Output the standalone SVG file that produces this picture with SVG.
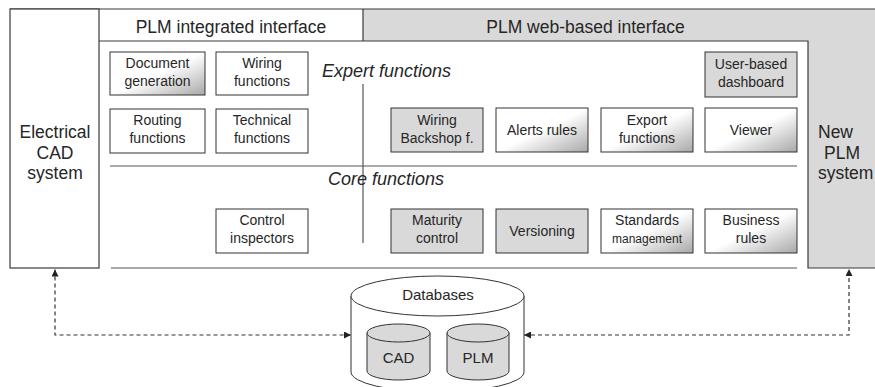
<svg xmlns="http://www.w3.org/2000/svg" width="875" height="387" viewBox="0 0 875 387">
<style>
  text { font-family: "Liberation Sans", Arial, sans-serif; fill: #262626; }
  .hdr { font-size: 17.5px; text-anchor: middle; }
  .big { font-size: 17.5px; text-anchor: middle; }
  .it { font-size: 18px; font-style: italic; }
  .lbl { font-size: 14px; text-anchor: middle; }
  .sm { font-size: 12px; text-anchor: middle; }
  .db { font-size: 15px; text-anchor: middle; }
  .box { stroke: #333; stroke-width: 1; }
  .w { fill: #ffffff; }
  .g { fill: #d9d9d9; }
  .gr { fill: url(#grad); }
  .ln { stroke: #3a3a3a; stroke-width: 1.2; fill: none; }
  .sep { stroke: #555; stroke-width: 1.2; fill: none; }
  .dash { stroke: #333; stroke-width: 1.2; fill: none; stroke-dasharray: 4 3; }
</style>
<defs>
  <linearGradient id="grad" x1="0" y1="0" x2="1" y2="1">
    <stop offset="0" stop-color="#ffffff"/>
    <stop offset="0.5" stop-color="#ffffff"/>
    <stop offset="1" stop-color="#a8a8a8"/>
  </linearGradient>
  <marker id="ah" viewBox="0 0 10 10" refX="10" refY="5" markerWidth="7" markerHeight="7" markerUnits="userSpaceOnUse" orient="auto-start-reverse">
    <path d="M0,0 L10,5 L0,10 z" fill="#222"/>
  </marker>
</defs>

<g id="frame">
  <rect x="363" y="9" width="512" height="259" fill="#d9d9d9"/>
  <rect x="99" y="41" width="709" height="227" fill="#ffffff"/>
  <path class="ln" d="M10,9 L875,9"/>
  <path class="ln" d="M363,9 L363,41"/>
  <path class="ln" d="M99,41 L808,41 L808,268 L875,268"/>
  <path class="sep" d="M363,84 L363,243"/>
  <path class="sep" d="M110,166 L797,166"/>
  <path class="sep" d="M111,268 L797,268"/>
  <text class="hdr" x="231" y="33">PLM integrated interface</text>
  <text class="hdr" x="585.5" y="33">PLM web-based interface</text>
  <text class="it" x="322" y="77">Expert functions</text>
  <text class="it" x="328" y="185">Core functions</text>
</g>

<g id="electrical-cad">
  <rect x="10" y="9" width="89" height="259" fill="#ffffff" stroke="#3a3a3a" stroke-width="1.2"/>
  <text class="big" x="55" y="138">Electrical</text>
  <text class="big" x="55" y="159">CAD</text>
  <text class="big" x="55" y="179">system</text>
</g>

<g id="new-plm">
  <text style="font-size:17.5px" x="818" y="138">New</text>
  <text style="font-size:17.5px" x="824" y="159">PLM</text>
  <text style="font-size:17.5px" x="818" y="179">system</text>
</g>

<g id="document-generation">
  <rect class="box gr" x="110" y="52" width="95" height="43"/>
  <text class="lbl" x="157.5" y="68">Document</text>
  <text class="lbl" x="157.5" y="86">generation</text>
</g>
<g id="wiring-functions">
  <rect class="box w" x="216" y="52" width="92" height="43"/>
  <text class="lbl" x="262" y="68">Wiring</text>
  <text class="lbl" x="262" y="86">functions</text>
</g>
<g id="routing-functions">
  <rect class="box w" x="110" y="109" width="95" height="44"/>
  <text class="lbl" x="157.5" y="125">Routing</text>
  <text class="lbl" x="157.5" y="143">functions</text>
</g>
<g id="technical-functions">
  <rect class="box w" x="216" y="109" width="92" height="44"/>
  <text class="lbl" x="262" y="125">Technical</text>
  <text class="lbl" x="262" y="143">functions</text>
</g>
<g id="control-inspectors">
  <rect class="box w" x="216" y="209" width="92" height="44"/>
  <text class="lbl" x="262" y="225">Control</text>
  <text class="lbl" x="262" y="243">inspectors</text>
</g>

<g id="user-dashboard">
  <rect class="box g" x="705" y="52" width="92" height="45"/>
  <text class="lbl" x="751" y="69">User-based</text>
  <text class="lbl" x="751" y="87">dashboard</text>
</g>
<g id="wiring-backshop">
  <rect class="box g" x="391" y="108" width="92" height="44"/>
  <text class="lbl" x="437" y="125">Wiring</text>
  <text class="lbl" x="437" y="143">Backshop f.</text>
</g>
<g id="alerts-rules">
  <rect class="box gr" x="496" y="108" width="92" height="44"/>
  <text class="lbl" x="542" y="135">Alerts rules</text>
</g>
<g id="export-functions">
  <rect class="box gr" x="601" y="108" width="92" height="44"/>
  <text class="lbl" x="647" y="125">Export</text>
  <text class="lbl" x="647" y="143">functions</text>
</g>
<g id="viewer">
  <rect class="box gr" x="705" y="108" width="92" height="44"/>
  <text class="lbl" x="751" y="135">Viewer</text>
</g>
<g id="maturity-control">
  <rect class="box g" x="391" y="209" width="92" height="44"/>
  <text class="lbl" x="437" y="225">Maturity</text>
  <text class="lbl" x="437" y="243">control</text>
</g>
<g id="versioning">
  <rect class="box g" x="496" y="209" width="92" height="44"/>
  <text class="lbl" x="542" y="236">Versioning</text>
</g>
<g id="standards-management">
  <rect class="box gr" x="601" y="209" width="92" height="44"/>
  <text class="lbl" x="647" y="225">Standards</text>
  <text class="sm" x="647" y="243">management</text>
</g>
<g id="business-rules">
  <rect class="box gr" x="705" y="209" width="92" height="44"/>
  <text class="lbl" x="751" y="225">Business</text>
  <text class="lbl" x="751" y="243">rules</text>
</g>

<g id="databases">
  <path d="M351,296 L351,372 A86.5,20 0 0 0 524,372 L524,296" fill="#ffffff" stroke="#333" stroke-width="1"/>
  <ellipse cx="437.5" cy="296" rx="86.5" ry="20" fill="#ffffff" stroke="#333" stroke-width="1"/>
  <text class="db" x="438" y="300">Databases</text>
</g>
<g id="cad-db">
  <path d="M367,333 L367,371 A31.5,9 0 0 0 430,371 L430,333" fill="#d9d9d9" stroke="#333" stroke-width="1"/>
  <ellipse cx="398.5" cy="333" rx="31.5" ry="9" fill="#d9d9d9" stroke="#333" stroke-width="1"/>
  <text class="db" x="398.5" y="363">CAD</text>
</g>
<g id="plm-db">
  <path d="M447,333 L447,371 A31,9 0 0 0 509,371 L509,333" fill="#d9d9d9" stroke="#333" stroke-width="1"/>
  <ellipse cx="478" cy="333" rx="31" ry="9" fill="#d9d9d9" stroke="#333" stroke-width="1"/>
  <text class="db" x="478" y="363">PLM</text>
</g>

<g id="connectors">
  <path class="dash" d="M55,269.5 L55,335 L351,335" marker-start="url(#ah)" marker-end="url(#ah)"/>
  <path class="dash" d="M524,335 L849,335 L849,269" marker-start="url(#ah)" marker-end="url(#ah)"/>
</g>
</svg>
